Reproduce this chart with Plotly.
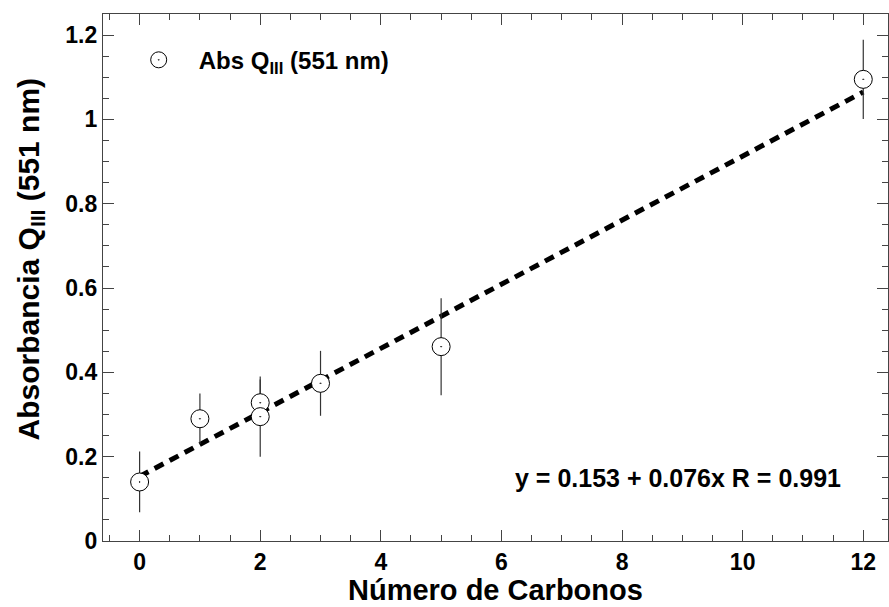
import plotly.graph_objects as go

# Number of carbon atoms and measured absorbance of the Q_III band (551 nm)
carbons = [0, 1, 2, 2, 3, 5, 12]
absorbance = [0.140, 0.290, 0.328, 0.295, 0.374, 0.461, 1.095]
abs_error = [0.072, 0.060, 0.055, 0.095, 0.077, 0.115, 0.094]

# Linear fit: y = a + b x
FIT_INTERCEPT = 0.153
FIT_SLOPE = 0.076
FIT_R = 0.991
fit_x = [0, 12]
fit_y = [FIT_INTERCEPT + FIT_SLOPE * x for x in fit_x]

x_ticks = [0, 2, 4, 6, 8, 10, 12]
y_ticks = [0, 0.2, 0.4, 0.6, 0.8, 1.0, 1.2]
y_tick_text = ["0", "0.2", "0.4", "0.6", "0.8", "1", "1.2"]

FONT = "Arial, 'Liberation Sans', sans-serif"
AXIS_COLOR = "#444444"

fig = go.Figure()

fig.add_trace(go.Scatter(
    x=fit_x, y=fit_y, mode="lines",
    line=dict(color="black", width=5, dash="10px,7px"),
    showlegend=False, hoverinfo="skip",
))

fig.add_trace(go.Scatter(
    x=carbons, y=absorbance, mode="markers",
    name="Abs Q<sub>III</sub> (551 nm)",
    marker=dict(symbol="circle-dot", size=18, color="white",
                line=dict(color="black", width=1)),
    error_y=dict(type="data", array=abs_error, visible=True,
                 color="#333333", thickness=1.2, width=0),
))

fig.add_annotation(
    x=8.93, y=0.149, xref="x", yref="y",
    text=f"y = {FIT_INTERCEPT:.3f} + {FIT_SLOPE:.3f}x R = {FIT_R:.3f}",
    showarrow=False, xanchor="center", yanchor="middle",
    font=dict(family=FONT, size=25, color="black", weight="bold"),
)

# Axis titles as annotations so they sit exactly in the margins
fig.add_annotation(
    x=0, y=0.5, xref="paper", yref="paper",
    xshift=-73, yshift=18, textangle=-90,
    text="Absorbancia Q<sub>III</sub> (551 nm)",
    showarrow=False, xanchor="center", yanchor="middle",
    font=dict(family=FONT, size=30, color="black", weight="bold"),
)
fig.add_annotation(
    x=0.5, y=0, xref="paper", yref="paper",
    yshift=-66, text="Número de Carbonos", borderpad=0,
    showarrow=False, xanchor="center", yanchor="bottom",
    font=dict(family=FONT, size=29, color="black", weight="bold"),
)

axis_common = dict(
    showline=True, linecolor=AXIS_COLOR, linewidth=1.2, mirror="allticks",
    ticks="inside", ticklen=11, tickwidth=1.2, tickcolor=AXIS_COLOR,
    showgrid=False, zeroline=False, automargin=False,
    tickfont=dict(family=FONT, size=23, color="black", weight="bold"),
)

fig.update_xaxes(
    **axis_common,
    range=[-0.607, 12.41], tickvals=x_ticks,
    minor=dict(ticks="inside", ticklen=6, dtick=0.5, tick0=0,
               tickcolor=AXIS_COLOR, tickwidth=1.2),
)
fig.update_yaxes(
    **axis_common,
    range=[0, 1.25], tickvals=y_ticks, ticktext=y_tick_text,
    minor=dict(ticks="inside", ticklen=6, dtick=0.05, tick0=0,
               tickcolor=AXIS_COLOR, tickwidth=1.2),
)

fig.update_layout(
    width=889, height=607,
    margin=dict(l=103, r=1, t=14, b=66),
    paper_bgcolor="white", plot_bgcolor="white",
    font=dict(family=FONT, color="black"),
    legend=dict(x=0.02, y=0.955, xanchor="left", yanchor="top",
                bgcolor="rgba(0,0,0,0)", itemwidth=70,
                font=dict(family=FONT, size=24, color="black", weight="bold")),
)

fig.write_html("out.html")
